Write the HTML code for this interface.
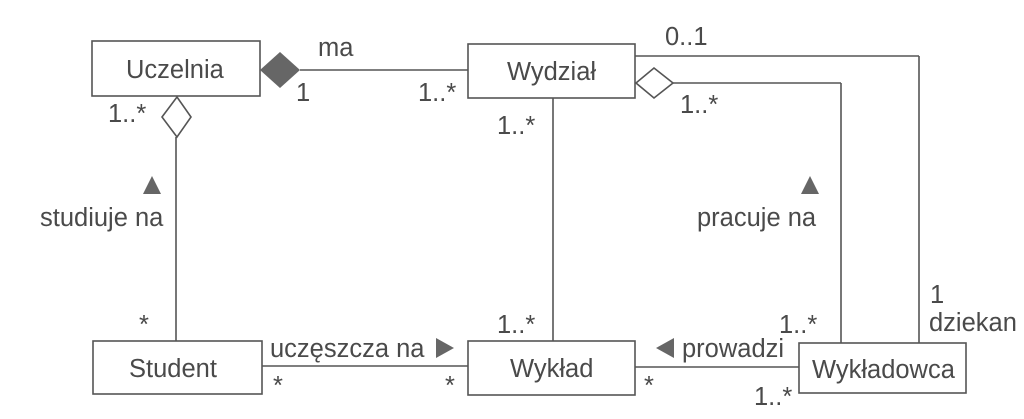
<!DOCTYPE html>
<html><head><meta charset="utf-8"><style>
html,body{margin:0;padding:0;background:#fff;}
svg{display:block;}
text{font-family:"Liberation Sans",sans-serif;fill:#4a4a4a;font-size:25.5px;}
</style></head><body>
<svg width="1024" height="419" viewBox="0 0 1024 419" xmlns="http://www.w3.org/2000/svg">
<g fill="none" stroke="#555" stroke-width="1.6">
<rect x="92" y="41" width="168" height="55"/>
<rect x="468" y="44" width="167" height="54"/>
<rect x="93" y="341" width="169" height="53"/>
<rect x="468" y="341" width="167" height="54"/>
<rect x="799" y="343" width="167" height="50"/>
<line x1="300" y1="70" x2="468" y2="70"/>
<line x1="176" y1="137" x2="176" y2="341"/>
<line x1="553" y1="98" x2="553" y2="341"/>
<line x1="635" y1="56" x2="919" y2="56"/>
<line x1="919" y1="56" x2="919" y2="343"/>
<line x1="673" y1="83" x2="841" y2="83"/>
<line x1="841" y1="83" x2="841" y2="343"/>
<line x1="262" y1="366" x2="468" y2="366"/>
<line x1="635" y1="367" x2="799" y2="367"/>
<polygon points="162,117 177,97 191,117 177,137" fill="#fff"/>
<polygon points="636,83 654,68 673,83 654,98" fill="#fff"/>
</g>
<polygon points="260,70 280,52 300,70 280,88" fill="#666"/>
<g fill="#666">
<polygon points="143,194 152,176 161,194"/>
<polygon points="801,194 810,176 819,194"/>
<polygon points="436,338 454,348 436,358"/>
<polygon points="674,338 656,348 674,358"/>
</g>
<text x="318" y="56">ma</text>
<text x="296" y="101">1</text>
<text x="418" y="101">1..*</text>
<text x="108" y="122">1..*</text>
<text x="497" y="134">1..*</text>
<text x="665" y="45">0..1</text>
<text x="680" y="113">1..*</text>
<text x="40" y="226">studiuje na</text>
<text x="697" y="226">pracuje na</text>
<text x="139" y="333">*</text>
<text x="497" y="333">1..*</text>
<text x="779" y="333">1..*</text>
<text x="930" y="303">1</text>
<text x="929" y="331">dziekan</text>
<text x="270" y="357">uczęszcza na</text>
<text x="682" y="357">prowadzi</text>
<text x="129" y="377">Student</text>
<text x="510" y="377">Wykład</text>
<text x="812" y="378">Wykładowca</text>
<text x="126" y="78">Uczelnia</text>
<text x="507" y="80">Wydział</text>
<text x="273" y="394">*</text>
<text x="445" y="394">*</text>
<text x="644" y="394">*</text>
<text x="754" y="405">1..*</text>
</svg>
</body></html>
